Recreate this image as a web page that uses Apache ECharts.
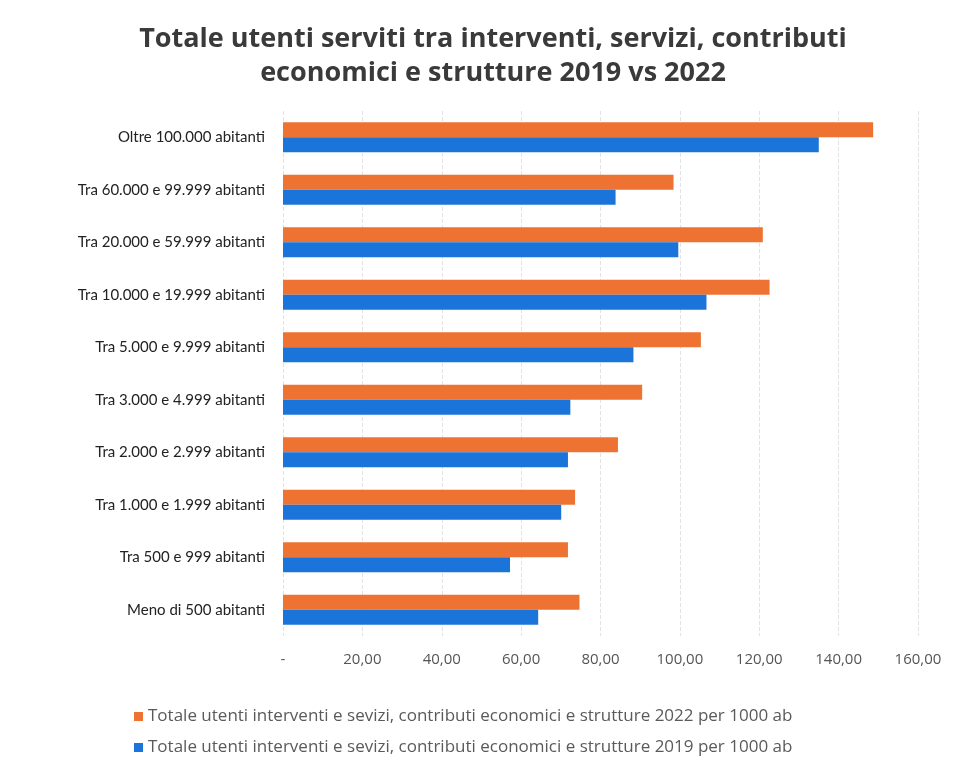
<!DOCTYPE html>
<html>
<head>
<meta charset="utf-8">
<script src="https://cdn.jsdelivr.net/npm/echarts@6/dist/echarts.min.js"></script>
<style>
  html, body { margin: 0; padding: 0; background: #fff; }
  #chart { width: 953px; height: 762px; }
</style>
</head>
<body>
<div id="chart"></div>
<script>
// Population classes, listed from bottom to top of the chart
const categories = [
  'Meno di 500 abitanti',
  'Tra 500 e 999 abitanti',
  'Tra 1.000 e 1.999 abitanti',
  'Tra 2.000 e 2.999 abitanti',
  'Tra 3.000 e 4.999 abitanti',
  'Tra 5.000 e 9.999 abitanti',
  'Tra 10.000 e 19.999 abitanti',
  'Tra 20.000 e 59.999 abitanti',
  'Tra 60.000 e 99.999 abitanti',
  'Oltre 100.000 abitanti'
];

// Users served per 1000 inhabitants
const values2019 = [64.3, 57.2, 70.1, 71.8, 72.4, 88.3, 106.7, 99.6, 83.8, 135.0];
const values2022 = [74.7, 71.8, 73.6, 84.4, 90.5, 105.3, 122.6, 120.9, 98.4, 148.7];

const name2022 = 'Totale utenti interventi e sevizi, contributi economici e strutture 2022 per 1000 ab';
const name2019 = 'Totale utenti interventi e sevizi, contributi economici e strutture 2019 per 1000 ab';

const axisMin = 0;
const axisMax = 160;
const axisStep = 20;

const chart = echarts.init(document.getElementById('chart'));
chart.setOption({
  animation: false,
  title: {
    text: 'Totale utenti serviti tra interventi, servizi, contributi\neconomici e strutture 2019 vs 2022',
    left: 488,
    textAlign: 'center',
    top: 17,
    textStyle: {
      fontFamily: 'Open Sans',
      fontWeight: 'bold',
      fontSize: 27,
      lineHeight: 34,
      color: '#3a3a3a'
    }
  },
  legend: {
    orient: 'vertical',
    left: 129,
    top: 703,
    itemGap: 14,
    itemWidth: 9,
    itemHeight: 9,
    icon: 'rect',
    data: [name2022, name2019],
    textStyle: { fontFamily: 'Open Sans', fontSize: 17, color: '#5a5a5a' }
  },
  grid: { left: 283, right: 35, top: 111, bottom: 126 },
  xAxis: {
    type: 'value',
    min: axisMin,
    max: axisMax,
    interval: axisStep,
    axisLine: { show: false },
    axisTick: { show: false },
    splitLine: { show: true, lineStyle: { color: '#e2e2e2', type: 'dashed', width: 1 } },
    axisLabel: {
      margin: 16,
      fontFamily: 'Open Sans',
      fontSize: 15,
      color: '#555',
      formatter: v => v === 0 ? '-' : v.toFixed(2).replace('.', ',')
    }
  },
  yAxis: {
    type: 'category',
    data: categories,
    axisLine: { show: false },
    axisTick: { show: false },
    axisLabel: {
      margin: 18,
      fontFamily: 'Lato',
      fontSize: 15,
      color: '#222'
    }
  },
  series: [
    {
      name: name2022,
      type: 'bar',
      data: values2022,
      itemStyle: { color: '#EE7333' },
      barGap: '0%',
      barCategoryGap: '43%'
    },
    {
      name: name2019,
      type: 'bar',
      data: values2019,
      itemStyle: { color: '#1B74D9' },
      barGap: '0%',
      barCategoryGap: '43%'
    }
  ]
});
</script>
</body>
</html>
